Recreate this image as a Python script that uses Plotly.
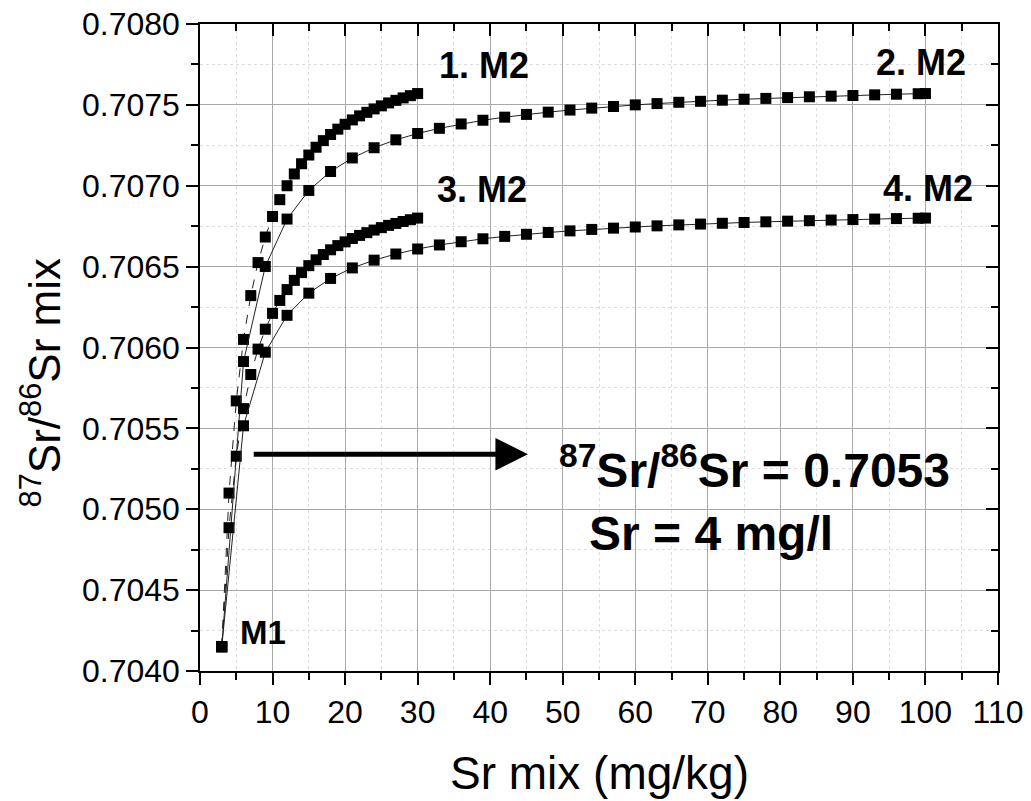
import plotly.graph_objects as go

# ---- data ----
sr_short = [3, 4, 5, 6, 7, 8, 9, 10, 11, 12, 13, 14, 15, 16, 17, 18, 19, 20,
            21, 22, 23, 24, 25, 26, 27, 28, 29, 30]
sr_long = [3, 6, 9, 12, 15, 18, 21, 24, 27, 30, 33, 36, 39, 42, 45, 48, 51, 54,
           57, 60, 63, 66, 69, 72, 75, 78, 81, 84, 87, 90, 93, 96, 99, 100]

ratio_1 = [0.70415, 0.70510, 0.70567, 0.70605, 0.706321, 0.706525, 0.706683,
           0.70681, 0.706914, 0.70700, 0.707073, 0.707136, 0.70719, 0.707238,
           0.707279, 0.707317, 0.70735, 0.70738, 0.707407, 0.707432, 0.707454,
           0.707475, 0.707494, 0.707512, 0.707528, 0.707543, 0.707557, 0.70757]
ratio_3 = [0.70415, 0.704886, 0.705328, 0.705622, 0.705833, 0.70599, 0.706113,
           0.706211, 0.706291, 0.706358, 0.706415, 0.706463, 0.706506, 0.706542,
           0.706575, 0.706604, 0.70663, 0.706653, 0.706674, 0.706693, 0.70671,
           0.706726, 0.706741, 0.706755, 0.706767, 0.706779, 0.70679, 0.70680]
ratio_2 = [0.70415, 0.705913, 0.706501, 0.706794, 0.706971, 0.707088, 0.707172,
           0.707235, 0.707284, 0.707323, 0.707355, 0.707382, 0.707405, 0.707424,
           0.707441, 0.707455, 0.707468, 0.70748, 0.70749, 0.70750, 0.707508,
           0.707516, 0.707522, 0.707529, 0.707535, 0.70754, 0.707545, 0.70755,
           0.707554, 0.707558, 0.707562, 0.707566, 0.707569, 0.70757]
ratio_4 = [0.70415, 0.705516, 0.705971, 0.706199, 0.706336, 0.706427, 0.706492,
           0.70654, 0.706578, 0.706609, 0.706634, 0.706654, 0.706672, 0.706687,
           0.70670, 0.706711, 0.706721, 0.70673, 0.706738, 0.706745, 0.706752,
           0.706758, 0.706763, 0.706768, 0.706773, 0.706777, 0.706781, 0.706784,
           0.706788, 0.706791, 0.706794, 0.706797, 0.706799, 0.70680]

curve_labels = ["1. M2", "2. M2", "3. M2", "4. M2"]
label_pos = [(39.1, 0.707745), (99.4, 0.707765), (38.9, 0.706974), (100.3, 0.70698)]

x_ticks = [0, 10, 20, 30, 40, 50, 60, 70, 80, 90, 100, 110]
y_ticks = [0.7040, 0.7045, 0.7050, 0.7055, 0.7060, 0.7065, 0.7070, 0.7075, 0.7080]

arrow_from = (7.2, 0.70534)
arrow_to = (45.2, 0.70534)

FONT = "Arial, Liberation Sans, sans-serif"

fig = go.Figure()

series = [
    (sr_short, ratio_1, "dash"),
    (sr_long, ratio_2, "solid"),
    (sr_short, ratio_3, "dash"),
    (sr_long, ratio_4, "solid"),
]
for xs, ys, dash in series:
    fig.add_trace(go.Scatter(
        x=xs, y=ys, mode="lines+markers",
        line=dict(color="#222222", width=1, dash=dash),
        marker=dict(symbol="square", size=11, color="black"),
        showlegend=False,
    ))

# dummy trace for mirrored (inside) ticks on top/right axes
fig.add_trace(go.Scatter(x=[None], y=[None], xaxis="x2", yaxis="y2",
                         showlegend=False, hoverinfo="skip"))

axis_common = dict(
    showline=True, linecolor="black", linewidth=1.5,
    tickcolor="black", tickwidth=1.5,
    tickfont=dict(family=FONT, size=32, color="black"),
    zeroline=False, automargin=False, ticklabeloverflow="allow",
)

# the page body adds an 8 px offset; margins compensate for it
fig.update_layout(
    width=1031, height=801,
    margin=dict(l=192, r=41, t=16, b=138),
    paper_bgcolor="white", plot_bgcolor="white",
    xaxis=dict(
        range=[0, 110], tickvals=x_ticks, ticks="outside", ticklen=12,
        showgrid=True, gridcolor="#a8a8a8", gridwidth=1, mirror=True,
        minor=dict(dtick=5, ticks="outside", ticklen=7, tickcolor="black",
                   showgrid=True, gridcolor="#dddddd", griddash="dot"),
        **axis_common,
    ),
    yaxis=dict(
        range=[0.704, 0.708], tickvals=y_ticks, tickformat=".4f",
        ticks="outside", ticklen=12,
        showgrid=True, gridcolor="#a8a8a8", gridwidth=1, mirror=True,
        minor=dict(dtick=0.00025, ticks="outside", ticklen=7, tickcolor="black",
                   showgrid=True, gridcolor="#dddddd", griddash="dot"),
        **axis_common,
    ),
    xaxis2=dict(
        overlaying="x", side="top", range=[0, 110], tickvals=x_ticks,
        ticks="inside", ticklen=12, showticklabels=False, showgrid=False,
        showline=True, linecolor="black", linewidth=1.5,
        tickcolor="black", tickwidth=1.5, zeroline=False,
        automargin=False,
        minor=dict(dtick=5, ticks="inside", ticklen=7, tickcolor="black", showgrid=False),
    ),
    yaxis2=dict(
        overlaying="y", side="right", range=[0.704, 0.708], tickvals=y_ticks,
        ticks="inside", ticklen=12, showticklabels=False, showgrid=False,
        showline=True, linecolor="black", linewidth=1.5,
        tickcolor="black", tickwidth=1.5, zeroline=False,
        automargin=False,
        minor=dict(dtick=0.00025, ticks="inside", ticklen=7, tickcolor="black", showgrid=False),
    ),
)

# axis titles
fig.add_annotation(text="Sr mix (mg/kg)", xref="paper", yref="paper",
                   x=0.5, y=-0.158, showarrow=False, xanchor="center", yanchor="middle",
                   font=dict(family=FONT, size=46, color="black"))
fig.add_annotation(text="<sup>87</sup>Sr/<sup>86</sup>Sr mix", xref="paper", yref="paper",
                   x=-0.2, y=0.445, showarrow=False, textangle=-90,
                   xanchor="center", yanchor="middle",
                   font=dict(family=FONT, size=44, color="black"))

# curve end labels
for txt, (lx, ly) in zip(curve_labels, label_pos):
    fig.add_annotation(text=f"<b>{txt}</b>", x=lx, y=ly, showarrow=False,
                       xanchor="center", yanchor="middle",
                       font=dict(family=FONT, size=36, color="black"))
fig.add_annotation(text="<b>M1</b>", x=8.7, y=0.704241, showarrow=False,
                   xanchor="center", yanchor="middle",
                   font=dict(family=FONT, size=33, color="black"))

# arrow
fig.add_annotation(x=arrow_to[0], y=arrow_to[1], ax=arrow_from[0], ay=arrow_from[1],
                   xref="x", yref="y", axref="x", ayref="y", text="",
                   showarrow=True, arrowhead=2, arrowsize=1.3, arrowwidth=5,
                   arrowcolor="black")

# big text
fig.add_annotation(text="<b><sup>87</sup>Sr/<sup>86</sup>Sr = 0.7053</b>", x=49.2, y=0.70526,
                   showarrow=False, xanchor="left", yanchor="middle",
                   font=dict(family=FONT, size=48, color="black"))
fig.add_annotation(text="<b>Sr = 4 mg/l</b>", x=53.3, y=0.70485,
                   showarrow=False, xanchor="left", yanchor="middle",
                   font=dict(family=FONT, size=48, color="black"))

fig.write_html("out.html")
